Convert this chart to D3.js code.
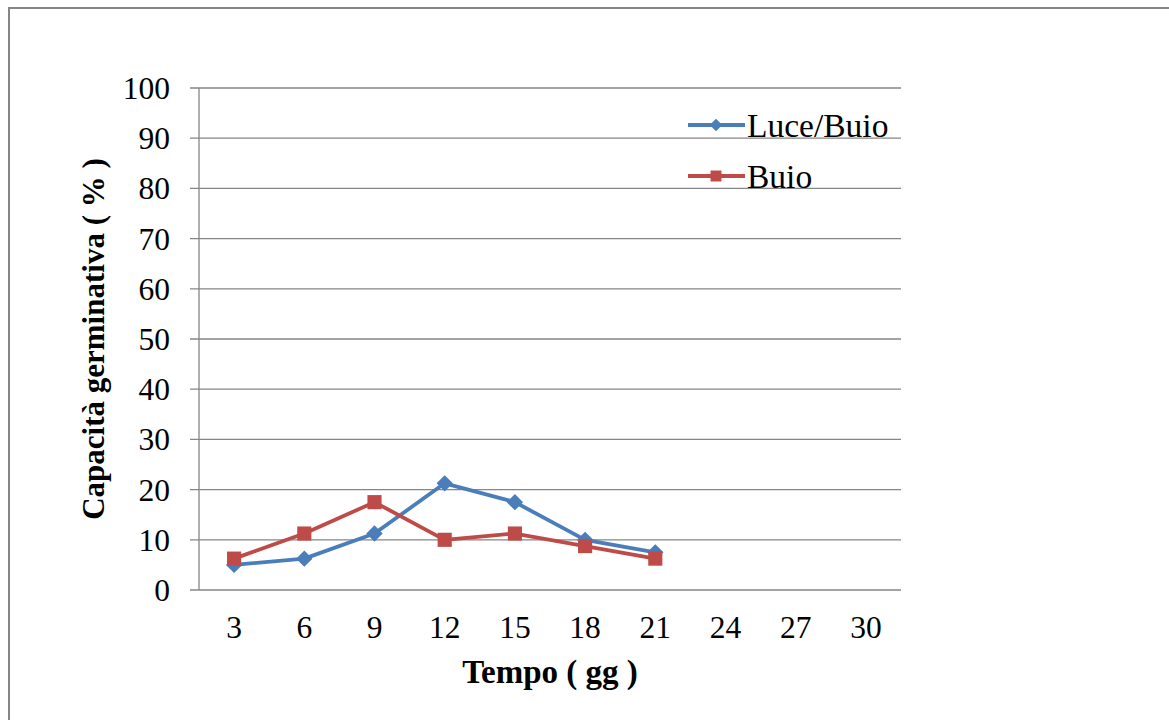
<!DOCTYPE html>
<html>
<head>
<meta charset="utf-8">
<script src="https://cdn.jsdelivr.net/npm/d3@7"></script>
<style>
  body { margin: 0; background: #fff; }
</style>
</head>
<body>
<svg width="1169" height="720"></svg>
<script>
(function (d3) {
  'use strict';
  const categories = [3, 6, 9, 12, 15, 18, 21, 24, 27, 30];
  const luceBuio = [5, 6.25, 11.25, 21.25, 17.5, 10, 7.5];
  const buio = [6.25, 11.25, 17.5, 10, 11.25, 8.75, 6.25];
  const yTicks = [0, 10, 20, 30, 40, 50, 60, 70, 80, 90, 100];
  const seriesNames = ['Luce/Buio', 'Buio'];

  const FONT = "'Liberation Serif', 'Times New Roman', serif";
  const COLORS = { blue: '#4a7ebb', red: '#be4b48', grid: '#868686' };
  const plot = { left: 199, right: 901, top: 88, bottom: 590 };

  const svg = d3.select('svg');

  // cornice del grafico
  svg.append('rect')
    .attr('x', 9).attr('y', 8)
    .attr('width', 1200).attr('height', 760)
    .attr('fill', 'none')
    .attr('stroke', COLORS.grid)
    .attr('stroke-width', 2);

  const x = d3.scaleBand()
    .domain(categories)
    .range([plot.left, plot.right]);

  const y = d3.scaleLinear()
    .domain([0, 100])
    .range([plot.bottom, plot.top]);

  // griglia orizzontale
  svg.append('g')
    .selectAll('line')
    .data(yTicks)
    .enter()
    .append('line')
    .attr('x1', plot.left - 9)
    .attr('x2', plot.right)
    .attr('y1', d => y(d))
    .attr('y2', d => y(d))
    .attr('stroke', COLORS.grid)
    .attr('stroke-width', 1.3);

  // asse y
  svg.append('line')
    .attr('x1', plot.left).attr('x2', plot.left)
    .attr('y1', plot.top).attr('y2', plot.bottom)
    .attr('stroke', COLORS.grid)
    .attr('stroke-width', 1.3);

  svg.append('g')
    .selectAll('text')
    .data(yTicks)
    .enter()
    .append('text')
    .attr('x', 170)
    .attr('y', d => y(d))
    .attr('dy', '0.35em')
    .attr('text-anchor', 'end')
    .attr('font-family', FONT)
    .attr('font-size', 31.5)
    .text(d => d);

  svg.append('g')
    .selectAll('text')
    .data(categories)
    .enter()
    .append('text')
    .attr('x', d => x(d) + x.bandwidth() / 2)
    .attr('y', 638)
    .attr('text-anchor', 'middle')
    .attr('font-family', FONT)
    .attr('font-size', 31.5)
    .text(d => d);

  // titoli degli assi
  svg.append('text')
    .attr('transform', 'translate(104,339) rotate(-90)')
    .attr('text-anchor', 'middle')
    .attr('font-family', FONT)
    .attr('font-size', 31)
    .attr('font-weight', 'bold')
    .text('Capacità germinativa ( % )');

  svg.append('text')
    .attr('x', 550)
    .attr('y', 683)
    .attr('text-anchor', 'middle')
    .attr('font-family', FONT)
    .attr('font-size', 33)
    .attr('font-weight', 'bold')
    .text('Tempo ( gg )');

  const line = d3.line()
    .x((d, i) => x(categories[i]) + x.bandwidth() / 2)
    .y(d => y(d));

  const series = [
    { name: seriesNames[0], values: luceBuio, color: COLORS.blue,
      symbol: d3.symbol().type(d3.symbolDiamond2).size(170),
      small: d3.symbol().type(d3.symbolDiamond2).size(100) },
    { name: seriesNames[1], values: buio, color: COLORS.red,
      symbol: d3.symbol().type(d3.symbolSquare).size(200),
      small: d3.symbol().type(d3.symbolSquare).size(120) }
  ];

  series.forEach(s => {
    svg.append('path')
      .attr('d', line(s.values))
      .attr('fill', 'none')
      .attr('stroke', s.color)
      .attr('stroke-width', 3.8)
      .attr('stroke-linejoin', 'round');

    svg.append('g')
      .selectAll('path')
      .data(s.values)
      .enter()
      .append('path')
      .attr('transform', (d, i) =>
        `translate(${x(categories[i]) + x.bandwidth() / 2},${y(d)})`)
      .attr('d', s.symbol)
      .attr('fill', s.color);
  });

  // legenda
  const legend = svg.append('g').attr('transform', 'translate(688,125)');
  const items = legend.selectAll('g')
    .data(series)
    .enter()
    .append('g')
    .attr('transform', (d, i) => `translate(0, ${i * 51})`);

  items.append('line')
    .attr('x1', 0).attr('x2', 57)
    .attr('stroke', d => d.color)
    .attr('stroke-width', 3.8);

  items.append('path')
    .attr('transform', 'translate(28,0)')
    .attr('d', d => d.small())
    .attr('fill', d => d.color);

  items.append('text')
    .attr('x', 59)
    .attr('dy', '0.35em')
    .attr('font-family', FONT)
    .attr('font-size', 33.5)
    .text(d => d.name);

}(d3));
</script>
</body>
</html>
